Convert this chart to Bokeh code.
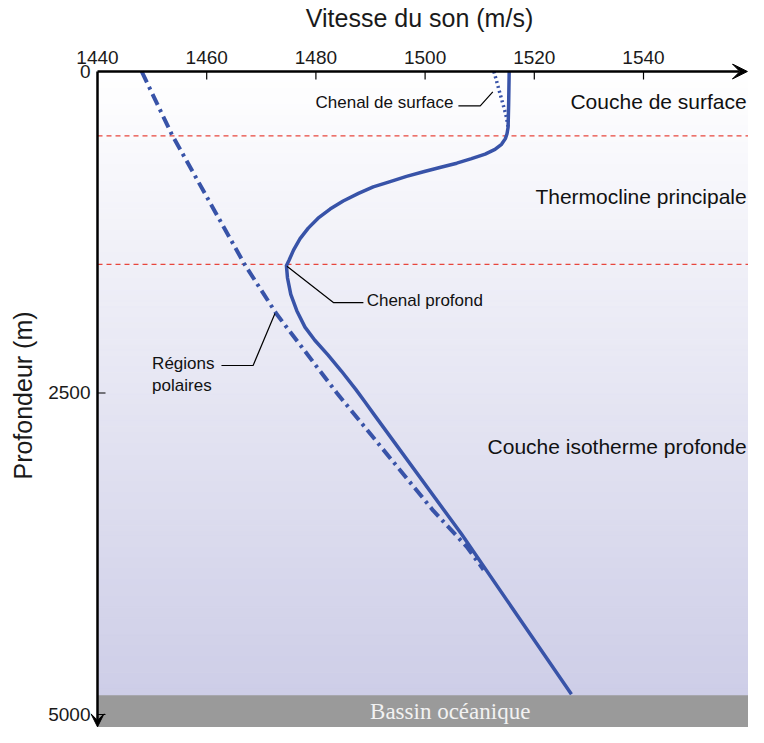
import numpy as np
from bokeh.plotting import figure
from bokeh.models import Range1d, FixedTicker, Label, Arrow, VeeHead
from bokeh.embed import file_html
from bokeh.resources import INLINE

# ---------------- data ----------------
speed_ticks = [1440, 1460, 1480, 1500, 1520, 1540]
depth_ticks = [0, 2500, 5000]

# typical profile (solid)
typical_speed = [1515.4, 1515.3, 1515.2, 1515.0, 1514.7, 1514.0, 1512.8, 1511.0, 1508.5,
                 1505.8, 1502.7, 1499.7, 1496.6, 1493.6, 1490.5, 1487.8, 1485.0, 1482.6,
                 1480.4, 1478.6, 1477.1, 1475.9, 1475.1, 1474.6, 1474.8, 1475.4, 1476.5,
                 1478.0, 1479.8, 1482.2, 1484.7, 1487.3, 1489.0, 1490.8, 1506.6, 1526.8]
typical_depth = [0, 255, 433, 484, 522, 566, 606, 642, 678, 713, 747, 780, 816, 856, 897,
                 948, 1007, 1070, 1141, 1218, 1300, 1389, 1466, 1510, 1606, 1733, 1860,
                 1988, 2090, 2204, 2331, 2472, 2570, 2676, 3593, 4842]

# surface channel (dotted)
surface_speed = [1512.6, 1513.1, 1513.6, 1514.1, 1514.6, 1514.9, 1515.2]
surface_depth = [0, 76, 153, 229, 306, 357, 430]

# polar regions (dash-dot)
polar_speed = [1448.1, 1453.6, 1467.0, 1472.8, 1483.8, 1501.5, 1507.6, 1510.7]
polar_depth = [0, 489, 1504, 1886, 2498, 3415, 3695, 3874]

layer_bounds = [500, 1500]
seabed_depth = 4850

# ---------------- geometry ----------------
PX_X = 5.46      # px per m/s
PX_Y = 0.1288    # px per m
X0, X1 = 1440, 1559.23
XL = X0 - 7 / PX_X
Y_TOP, Y_BOT = -8 / PX_Y, 5101

BLUE = "#3853a8"
FONT = "Liberation Sans"

p = figure(width=748, height=727, output_backend="svg", toolbar_location=None,
           x_range=Range1d(XL, X1), y_range=Range1d(Y_BOT, Y_TOP),
           x_axis_location="above", y_axis_location="left",
           min_border_left=90, min_border_top=62, min_border_right=0, min_border_bottom=0)
p.grid.visible = False
p.outline_line_color = None
p.background_fill_color = "white"
p.border_fill_color = "white"

# background gradient (white -> lavender)
n = 120
edges = np.linspace(0, Y_BOT, n + 1)
cols = []
for i in range(n):
    t = (edges[i] + edges[i + 1]) / 2 / Y_BOT
    r = int(round(255 + (203 - 255) * t))
    g = int(round(255 + (203 - 255) * t))
    b = int(round(255 + (230 - 255) * t))
    cols.append("#%02x%02x%02x" % (r, g, b))
p.quad(left=X0, right=X1, top=edges[:-1], bottom=edges[1:], fill_color=cols,
       line_color=cols, line_width=1)

# seabed
p.quad(left=X0, right=X1, top=seabed_depth, bottom=Y_BOT + 200, fill_color="#9a9a9a",
       line_color=None)
p.add_layout(Label(x=1504.6, y=4977, text="Bassin océanique", text_font="Liberation Serif",
                   text_font_size="23px", text_color="#f2f2f2", text_align="center",
                   text_baseline="middle"))

# layer boundaries
p.segment(x0=[X0] * len(layer_bounds), y0=layer_bounds, x1=[X1] * len(layer_bounds),
          y1=layer_bounds, line_color="#e8463c", line_dash="5 4", line_width=1.3)

# curves
p.line(polar_speed, polar_depth, line_color=BLUE, line_width=4, line_dash="12 5 3 5")
p.line(surface_speed, surface_depth, line_color=BLUE, line_width=3.5, line_dash="2 3")
p.line(typical_speed, typical_depth, line_color=BLUE, line_width=3.5, line_join="round")

# leader lines
p.line([1506.1, 1510.1, 1512.4], [268, 268, 158], line_color="black", line_width=1.2)
p.line([1474.7, 1483.2, 1488.7], [1514, 1797, 1797], line_color="black", line_width=1.2)
p.line([1462.7, 1468.5, 1472.5], [2286, 2286, 1881], line_color="black", line_width=1.2)

# annotations
def lab(x, y, t, size, align="left"):
    p.add_layout(Label(x=x, y=y, text=t, text_font=FONT, text_font_size=size,
                       text_color="#111111", text_align=align, text_baseline="middle"))

lab(1505.2, 242, "Chenal de surface", "17px", "right")
lab(1489.3, 1781, "Chenal profond", "17px")
lab(1450.0, 2271, "Régions", "17px")
lab(1450.0, 2440, "polaires", "17px")
lab(1558.9, 237, "Couche de surface", "21px", "right")
lab(1558.9, 971, "Thermocline principale", "21px", "right")
lab(1558.9, 2913, "Couche isotherme profonde", "21px", "right")

# axis lines with arrow heads, and inward ticks (drawn inside the frame)
p.add_layout(Arrow(end=VeeHead(size=15, fill_color="black", line_color="black"),
                   x_start=X0, y_start=0, x_end=X1 - 0.2, y_end=0,
                   line_color="black", line_width=2.5))
p.add_layout(Arrow(end=VeeHead(size=13, fill_color="black", line_color="black"),
                   x_start=X0, y_start=0, x_end=X0, y_end=Y_BOT - 5,
                   line_color="black", line_width=2.5))
top_ticks = [t for t in speed_ticks if t > X0]
p.segment(x0=top_ticks, y0=[0] * len(top_ticks), x1=top_ticks,
          y1=[8 / PX_Y] * len(top_ticks), line_color="black", line_width=1.2)
left_ticks = [t for t in depth_ticks if t > 0]
p.segment(x0=[X0] * len(left_ticks), y0=left_ticks, x1=[X0 + 8 / PX_X] * len(left_ticks),
          y1=left_ticks, line_color="black", line_width=1.2)

# axes (labels only)
xa = p.xaxis[0]
xa.ticker = FixedTicker(ticks=speed_ticks, minor_ticks=[])
xa.axis_label = "Vitesse du son (m/s)"
ya = p.yaxis[0]
ya.ticker = FixedTicker(ticks=depth_ticks, minor_ticks=[])
ya.axis_label = "Profondeur (m)"
for ax in (xa, ya):
    ax.axis_line_color = None
    ax.major_tick_line_color = None
    ax.minor_tick_line_color = None
    ax.major_tick_in = 0
    ax.major_tick_out = 0
    ax.major_label_text_font = FONT
    ax.major_label_text_font_size = "19px"
    ax.major_label_text_color = "#1a1a1a"
    ax.axis_label_text_font = FONT
    ax.axis_label_text_font_size = "25px"
    ax.axis_label_text_font_style = "normal"
    ax.axis_label_text_color = "#1a1a1a"
xa.major_label_standoff = 0
xa.axis_label_standoff = 16
ya.major_label_standoff = 0
ya.axis_label_standoff = 8

open("out.html", "w").write(file_html(p, INLINE))
